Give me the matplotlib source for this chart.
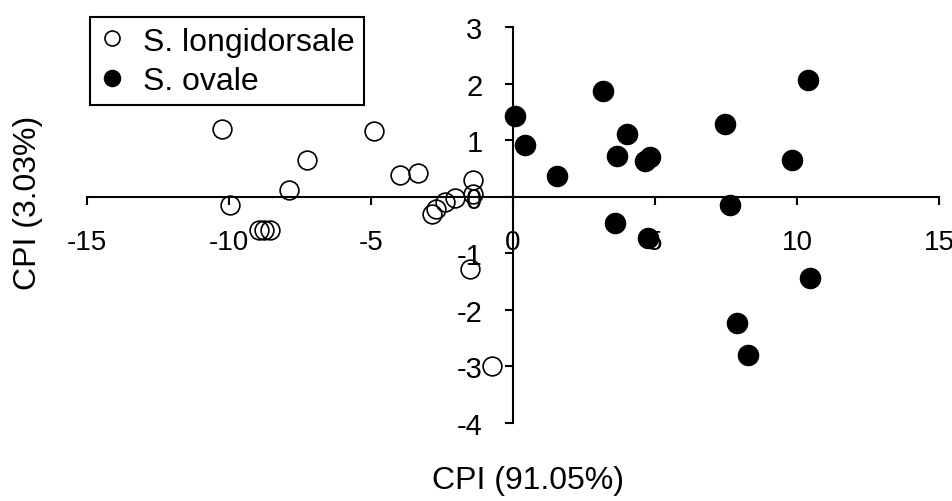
"""Scatter of CPI scores for S. longidorsale vs S. ovale, axes crossing at the origin."""

import matplotlib
matplotlib.use("Agg")
import matplotlib.pyplot as plt


# ---------------------------------------------------------------------------
# Data
# ---------------------------------------------------------------------------

longidorsale_x = [-10.25, -4.9, -7.25, -7.9, -9.95, -8.95, -8.75, -8.55,
                  -3.98, -3.35, -2.85, -2.7, -2.4, -2.05, -1.4, -1.4,
                  -1.5, -0.75]
longidorsale_y = [1.2, 1.17, 0.65, 0.12, -0.14, -0.58, -0.58, -0.58,
                  0.39, 0.42, -0.3, -0.22, -0.1, -0.02, 0.3, 0.05,
                  -1.27, -3.0]

ovale_x = [0.07, 0.42, 1.55, 3.17, 4.0, 3.66, 4.65, 4.82, 7.46, 10.39,
           9.82, 7.64, 3.59, 4.75, 10.46, 7.89, 8.27]
ovale_y = [1.43, 0.92, 0.37, 1.86, 1.11, 0.72, 0.64, 0.7, 1.29, 2.07,
           0.65, -0.15, -0.46, -0.73, -1.43, -2.23, -2.8]

x_ticks = [-15, -10, -5, 0, 5, 10, 15]
y_ticks = [-4, -3, -2, -1, 0, 1, 2, 3]

x_label = "CPI (91.05%)"
y_label = "CPI (3.03%)"
labels = ["S. longidorsale", "S. ovale"]


# ---------------------------------------------------------------------------
# Plot
# ---------------------------------------------------------------------------

plt.rcParams["font.family"] = ["Liberation Sans", "DejaVu Sans"]

fig = plt.figure(figsize=(9.53, 5.02), dpi=100)
W, H = 953, 502
ax = fig.add_axes([87 / W, 1 - 424 / H, (939 - 87) / W, (424 - 28) / H])

ax.plot(longidorsale_x, longidorsale_y, linestyle="none", marker="o",
        markersize=13.5, markerfacecolor="none", markeredgecolor="black",
        markeredgewidth=1.2, label=labels[0])
ax.plot(ovale_x, ovale_y, linestyle="none", marker="o",
        markersize=14.5, markerfacecolor="black", markeredgecolor="black",
        label=labels[1])

ax.set_xlim(-15, 15)
ax.set_ylim(-4, 3)

# axes crossing at the origin
ax.spines["left"].set_position(("data", 0))
ax.spines["bottom"].set_position(("data", 0))
ax.spines["top"].set_visible(False)
ax.spines["right"].set_visible(False)
for side in ("left", "bottom"):
    ax.spines[side].set_linewidth(1.5)

ax.set_xticks(x_ticks)
ax.set_yticks(y_ticks)
ax.set_xticklabels([str(v) for v in x_ticks])
ax.set_yticklabels([str(v) for v in y_ticks])
ax.tick_params(axis="x", direction="out", length=6, width=1.5,
               pad=17, labelsize=20)
ax.tick_params(axis="y", direction="out", length=6, width=1.5,
               pad=16, labelsize=21)

ax.set_xlabel(x_label, fontsize=23)
ax.xaxis.set_label_coords((528 - 87) / 852, (424 - 481) / 396)
ax.xaxis.label.set_va("center")
ax.set_ylabel(y_label, fontsize=23)
ax.yaxis.set_label_coords((28 - 87) / 852, (424 - 203) / 396)
ax.yaxis.label.set_va("center")

leg = ax.legend(loc="upper left", bbox_to_anchor=(90 / W, 1 - 18 / H),
                bbox_transform=fig.transFigure, borderaxespad=0,
                fontsize=23, markerscale=0.8, handlelength=0.8,
                handletextpad=0.55, borderpad=0.3, labelspacing=0.29,
                fancybox=False, framealpha=1, edgecolor="black")
leg.get_frame().set_linewidth(1.5)

fig.savefig("out.png", dpi=100)
plt.close(fig)
